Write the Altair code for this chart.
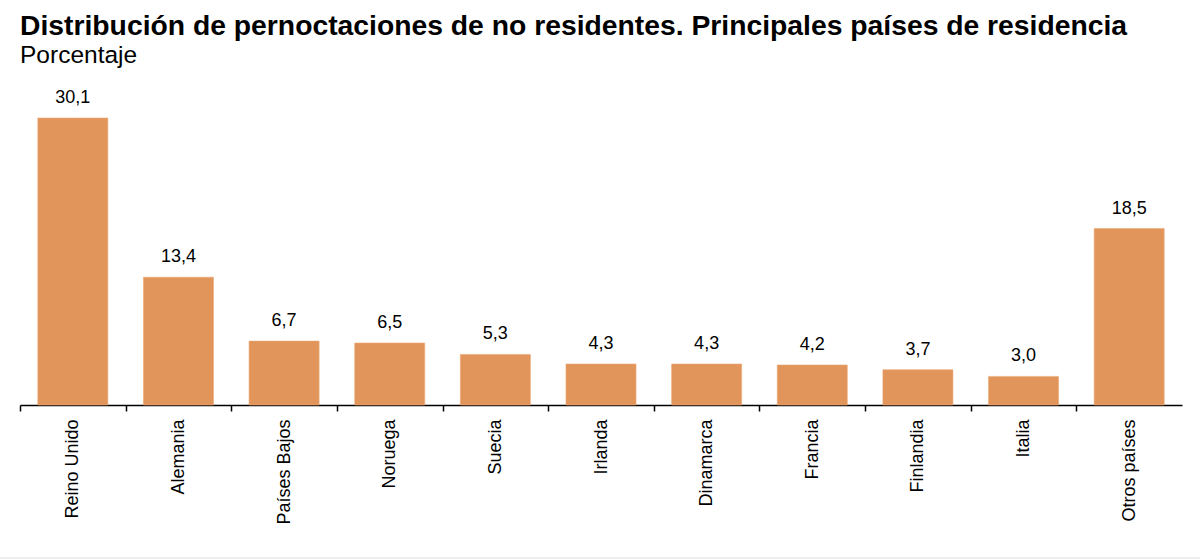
import altair as alt
import pandas as pd

# Share of overnight stays by non-residents, by country of residence
paises = ["Reino Unido", "Alemania", "Países Bajos", "Noruega", "Suecia",
          "Irlanda", "Dinamarca", "Francia", "Finlandia", "Italia", "Otros países"]
porcentajes = [30.1, 13.4, 6.7, 6.5, 5.3, 4.3, 4.3, 4.2, 3.7, 3.0, 18.5]

df = pd.DataFrame({"pais": paises, "valor": porcentajes})
df["etiqueta"] = df["valor"].map(lambda v: f"{v:.1f}".replace(".", ","))

FONT = "Liberation Sans"
W, H = 1162, 287
step = W / len(paises)

x = alt.X(
    "pais:N",
    sort=paises,
    title=None,
    scale=alt.Scale(paddingInner=0.337, paddingOuter=0.1685),
    axis=alt.Axis(
        labelAngle=-90,
        labelFont=FONT,
        labelFontSize=18,
        labelColor="#000000",
        labelPadding=8,
        domainColor="#000000",
        domainWidth=1.5,
        tickColor="#000000",
        tickWidth=1.5,
        tickSize=6,
        tickOffset=-step / 2,
        labelOffset=step / 2,
    ),
)
y = alt.Y("valor:Q", scale=alt.Scale(domain=[0, 30.1], nice=False), axis=None)

bars = alt.Chart(df).mark_bar(color="#E2955A", stroke="#EBA876", strokeWidth=0.6).encode(x=x, y=y)

labels = alt.Chart(df).mark_text(
    font=FONT, fontSize=18, color="#000000", baseline="alphabetic", dy=-15
).encode(x=alt.X("pais:N", sort=paises), y="valor:Q", text="etiqueta:N")

footer = alt.Chart(df).mark_rule(color="#EEEEEE", strokeWidth=1.5).encode(
    x=alt.value(-20), x2=alt.value(W + 18), y=alt.value(440)
)

chart = (
    alt.layer(bars, labels, footer)
    .properties(
        width=W,
        height=H,
        autosize=alt.AutoSizeParams(type="none"),
        padding={"left": 20, "top": 118, "right": 18, "bottom": 154},
        title=alt.TitleParams(
            text="Distribución de pernoctaciones de no residentes. Principales países de residencia",
            subtitle="Porcentaje",
            anchor="start",
            frame="group",
            font=FONT,
            fontSize=28.3,
            fontWeight="bold",
            color="#000000",
            subtitleFont=FONT,
            subtitleFontSize=24.5,
            subtitleColor="#000000",
            subtitlePadding=3,
            offset=20,
        ),
    )
    .configure_view(stroke=None)
)

chart.save("out.html", embed_options={"renderer": "svg", "actions": False})
